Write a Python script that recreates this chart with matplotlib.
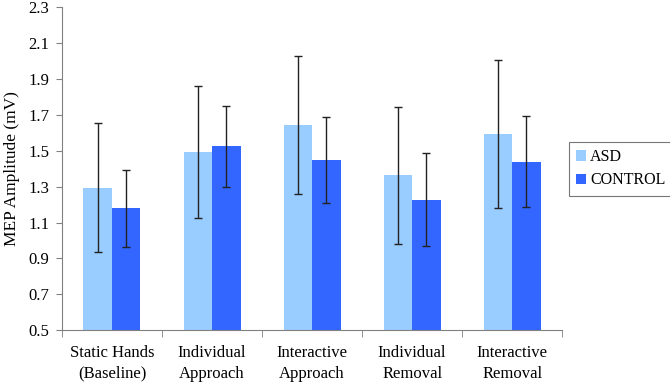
import matplotlib.pyplot as plt
import numpy as np

categories = ['Static Hands\n(Baseline)', 'Individual\nApproach', 'Interactive\nApproach',
              'Individual\nRemoval', 'Interactive\nRemoval']
asd_values = [1.293, 1.492, 1.644, 1.364, 1.596]
asd_err = [0.36, 0.367, 0.385, 0.383, 0.413]
control_values = [1.179, 1.525, 1.447, 1.228, 1.440]
control_err = [0.215, 0.225, 0.24, 0.258, 0.256]
y_ticks = [0.5, 0.7, 0.9, 1.1, 1.3, 1.5, 1.7, 1.9, 2.1, 2.3]

plt.rcParams['font.family'] = ['Liberation Serif', 'DejaVu Serif']

fig = plt.figure(figsize=(6.7, 3.87), dpi=100)
ax = fig.add_axes([0.0925, 0.147, 0.7465, 0.834])

x = np.arange(len(categories))
width = 0.285
err_style = dict(ecolor='#222222', elinewidth=1.0, capsize=3, capthick=1.0)

ax.bar(x - width / 2, asd_values, width, yerr=asd_err, color='#99CCFF',
       label='ASD', error_kw=err_style)
ax.bar(x + width / 2, control_values, width, yerr=control_err, color='#3366FF',
       label='CONTROL', error_kw=err_style)

ax.set_xlim(-0.5, len(categories) - 0.5)
ax.set_ylim(0.5, 2.3)
ax.set_yticks(y_ticks)
ax.set_yticklabels([f"{t:.1f}" for t in y_ticks], fontsize=12)
ax.set_ylabel('MEP Amplitude (mV)', fontsize=12.5)
ax.yaxis.set_label_coords(-0.084, 0.5)

# category labels in the middle, tick marks on the boundaries
ax.set_xticks(x)
ax.set_xticklabels(categories, fontsize=12, linespacing=1.35)
ax.tick_params(axis='x', length=0, pad=11)
ax.set_xticks(np.arange(len(categories) + 1) - 0.5, minor=True)
ax.tick_params(axis='x', which='minor', length=5, color='#808080')
ax.tick_params(axis='y', length=4, color='#808080', pad=5)

for side in ['top', 'right']:
    ax.spines[side].set_visible(False)
for side in ['left', 'bottom']:
    ax.spines[side].set_color('#808080')

leg = ax.legend(loc='center left', bbox_to_anchor=(1.014, 0.5), fontsize=11.5,
                frameon=True, fancybox=False, edgecolor='#555555',
                handlelength=0.6, handleheight=0.6, handletextpad=0.25,
                borderpad=0.45, labelspacing=0.45, borderaxespad=0)
leg.get_frame().set_linewidth(0.8)

fig.savefig('out.png', dpi=100)
